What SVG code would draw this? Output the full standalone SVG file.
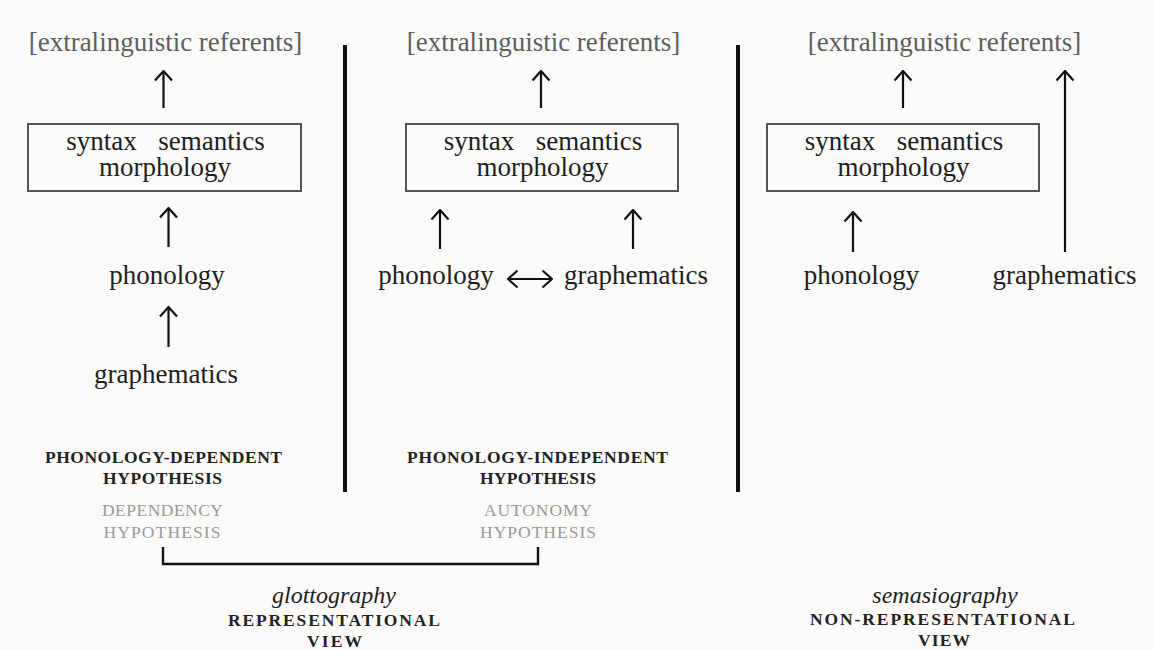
<svg xmlns="http://www.w3.org/2000/svg" width="1153" height="650" viewBox="0 0 1153 650">
  <style>
    .t { font-family: "Liberation Serif", serif; font-size: 27px; fill: #1e1e1e; text-anchor: middle; }
    .ref { fill: #5e5e5e; }
    .it { font-style: italic; font-size: 24px; }
    .sc { font-family: "Liberation Serif", serif; font-size: 17.5px; font-weight: bold; fill: #222; text-anchor: middle; }
    .scg { font-weight: normal; fill: #9a9a9a; }
    .box { fill: none; stroke: #555; stroke-width: 2; }
    .arr { fill: none; stroke: #111; stroke-width: 2.2; marker-end: url(#head); }
    .arr2 { fill: none; stroke: #111; stroke-width: 2.2; marker-start: url(#head2); marker-end: url(#head); }
    .div { stroke: #111; stroke-width: 4; }
    .brk { fill: none; stroke: #111; stroke-width: 2.4; }
  </style>
  <defs>
    <!-- open chevron heads, like a typeset arrow glyph -->
    <marker id="head" viewBox="0 0 12 20" refX="11" refY="10" markerWidth="12" markerHeight="20" markerUnits="userSpaceOnUse" orient="auto">
      <path d="M1.5,1.5 L11,10 L1.5,18.5" fill="none" stroke="#111" stroke-width="2.2"/>
    </marker>
    <marker id="head2" viewBox="0 0 12 20" refX="1" refY="10" markerWidth="12" markerHeight="20" markerUnits="userSpaceOnUse" orient="auto">
      <path d="M10.5,1.5 L1,10 L10.5,18.5" fill="none" stroke="#111" stroke-width="2.2"/>
    </marker>
  </defs>
  <rect width="1153" height="650" fill="#fbfaf8"/>

  <!-- column dividers -->
  <line class="div" x1="345" y1="45" x2="345" y2="492"/>
  <line class="div" x1="738" y1="45" x2="738" y2="492"/>

  <!-- left column: phonology-dependent -->
  <g id="ref-left"><text class="t ref" x="165.5" y="51">[extralinguistic referents]</text></g>
  <g id="box-left">
    <rect class="box" x="28" y="124" width="273" height="67"/>
    <text class="t" x="101.5" y="150">syntax</text>
    <text class="t" x="211.5" y="150">semantics</text>
    <text class="t" x="165" y="176">morphology</text>
  </g>
  <g id="phon-left"><text class="t" x="167" y="284">phonology</text></g>
  <g id="graph-left"><text class="t" x="166" y="383">graphematics</text></g>
  <g id="label-left">
    <text class="sc" x="163.5" y="463" textLength="237" lengthAdjust="spacing">PHONOLOGY-DEPENDENT</text>
    <text class="sc" x="162.5" y="484" textLength="119" lengthAdjust="spacing">HYPOTHESIS</text>
    <text class="sc scg" x="162.5" y="516" textLength="121" lengthAdjust="spacing">DEPENDENCY</text>
    <text class="sc scg" x="162" y="538" textLength="117" lengthAdjust="spacing">HYPOTHESIS</text>
  </g>

  <!-- middle column: phonology-independent -->
  <g id="ref-mid"><text class="t ref" x="543.5" y="51">[extralinguistic referents]</text></g>
  <g id="box-mid">
    <rect class="box" x="406" y="124" width="272" height="67"/>
    <text class="t" x="479" y="150">syntax</text>
    <text class="t" x="589" y="150">semantics</text>
    <text class="t" x="542.5" y="176">morphology</text>
  </g>
  <g id="phon-mid"><text class="t" x="436" y="284">phonology</text></g>
  <g id="graph-mid"><text class="t" x="636" y="284">graphematics</text></g>
  <g id="label-mid">
    <text class="sc" x="537.5" y="463" textLength="261" lengthAdjust="spacing">PHONOLOGY-INDEPENDENT</text>
    <text class="sc" x="538" y="484" textLength="116" lengthAdjust="spacing">HYPOTHESIS</text>
    <text class="sc scg" x="538" y="516" textLength="108" lengthAdjust="spacing">AUTONOMY</text>
    <text class="sc scg" x="538" y="538" textLength="116" lengthAdjust="spacing">HYPOTHESIS</text>
  </g>

  <!-- right column: semasiography -->
  <g id="ref-right"><text class="t ref" x="944.5" y="51">[extralinguistic referents]</text></g>
  <g id="box-right">
    <rect class="box" x="767" y="124" width="272" height="67"/>
    <text class="t" x="840" y="150">syntax</text>
    <text class="t" x="950" y="150">semantics</text>
    <text class="t" x="903.5" y="176">morphology</text>
  </g>
  <g id="phon-right"><text class="t" x="861.5" y="284">phonology</text></g>
  <g id="graph-right"><text class="t" x="1064.5" y="284">graphematics</text></g>

  <!-- view captions -->
  <g id="view-glotto">
    <text class="t it" x="334" y="603">glottography</text>
    <text class="sc" x="334" y="626" textLength="212" lengthAdjust="spacing">REPRESENTATIONAL</text>
    <text class="sc" x="334.5" y="647" textLength="55" lengthAdjust="spacing">VIEW</text>
  </g>
  <g id="view-semasio">
    <text class="t it" x="945" y="603">semasiography</text>
    <text class="sc" x="942.5" y="625" textLength="265" lengthAdjust="spacing">NON-REPRESENTATIONAL</text>
    <text class="sc" x="944" y="646" textLength="52" lengthAdjust="spacing">VIEW</text>
  </g>

  <!-- connectors -->
  <g id="connectors">
    <line class="arr" x1="163.5" y1="108" x2="163.5" y2="71"/>
    <line class="arr" x1="168.5" y1="247" x2="168.5" y2="208"/>
    <line class="arr" x1="168.5" y1="347" x2="168.5" y2="307"/>
    <line class="arr" x1="541" y1="108" x2="541" y2="71"/>
    <line class="arr" x1="440" y1="249" x2="440" y2="210"/>
    <line class="arr" x1="633" y1="249" x2="633" y2="210"/>
    <line class="arr2" x1="508" y1="279" x2="552" y2="279"/>
    <line class="arr" x1="903" y1="108" x2="903" y2="71"/>
    <line class="arr" x1="853" y1="252" x2="853" y2="212"/>
    <line class="arr" x1="1065" y1="252" x2="1065" y2="71"/>
    <path class="brk" d="M163,547 V564 H538 V547"/>
  </g>
</svg>
